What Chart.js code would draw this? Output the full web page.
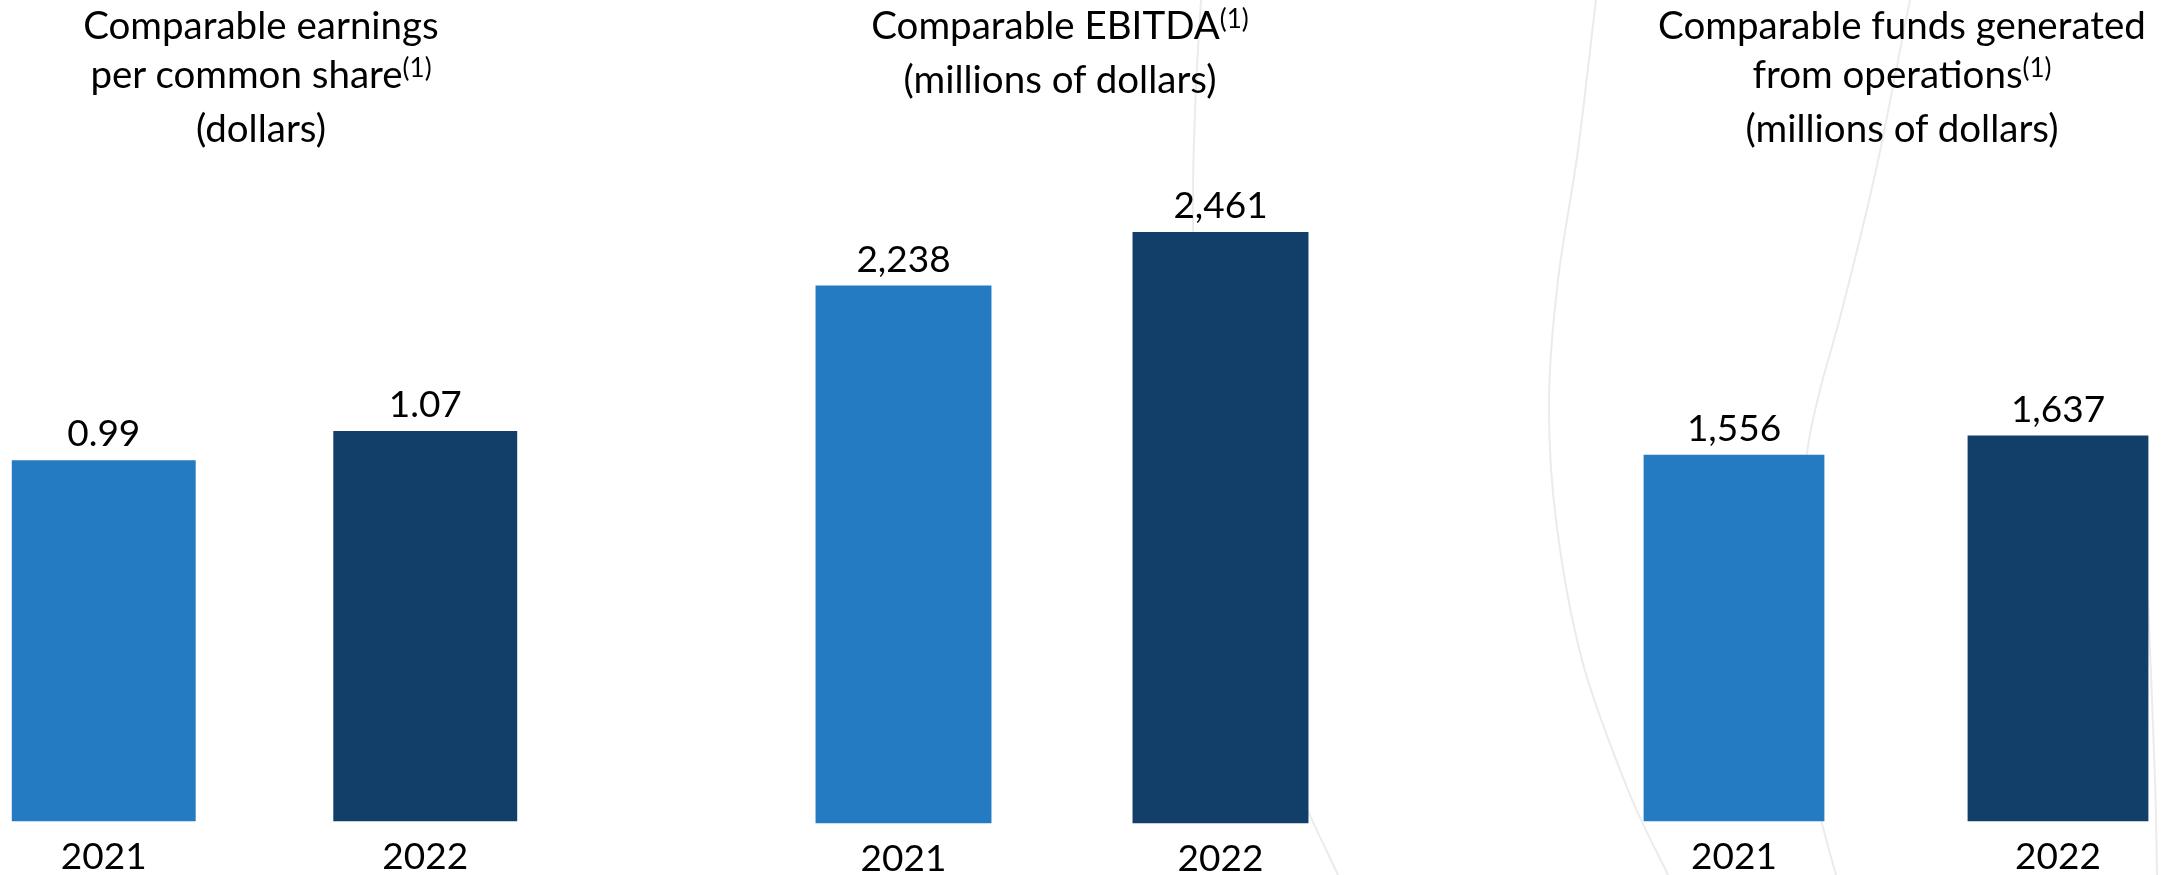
<!DOCTYPE html>
<html>
<head>
<meta charset="utf-8">
<script src="https://cdn.jsdelivr.net/npm/chart.js@4.4.0/dist/chart.umd.min.js"></script>
<style>
  html, body { margin:0; padding:0; background:#ffffff; }
  body { width:2169px; height:875px; overflow:hidden; position:relative; font-family: Lato, "Open Sans", sans-serif; color:#000; }
  #bg { position:absolute; left:0; top:0; width:2169px; height:875px; z-index:0; }
  .chartbox { position:absolute; top:0; z-index:1; }
  .title { position:absolute; top:0px; width:800px; text-align:center; font-size:38.5px; line-height:49px; white-space:nowrap; z-index:2; color:#000; }
  .title .sup { font-size:26px; position:relative; top:-11px; }
</style>
</head>
<body>
<canvas id="bg" width="2169" height="875"></canvas>

<div class="title" style="left:-139px;">Comparable earnings<br>per common share<span class="sup">(1)</span><br>(dollars)</div>
<div class="title" style="left:660px;">Comparable EBITDA<span class="sup">(1)</span><br>(millions of dollars)</div>
<div class="title" style="left:1502px;">Comparable funds generated<br>from operations<span class="sup">(1)</span><br>(millions of dollars)</div>

<div class="chartbox" style="left:-57px; width:643px; height:892px;"><canvas id="c1"></canvas></div>
<div class="chartbox" style="left:745px; width:634px; height:894px;"><canvas id="c2"></canvas></div>
<div class="chartbox" style="left:1572px; width:648px; height:892px;"><canvas id="c3"></canvas></div>

<script>
// ---- data ----
const categories = ['2021', '2022'];
const epsValues = [0.99, 1.07];          // Comparable earnings per common share (dollars)
const ebitdaValues = [2238, 2461];       // Comparable EBITDA (millions of dollars)
const fundsValues = [1556, 1637];        // Comparable funds generated from operations (millions of dollars)
const barColors = ['#247BC1', '#113F69'];

// ---- decorative background arcs ----
(function drawArcs() {
  const c = document.getElementById('bg');
  const ctx = c.getContext('2d');
  ctx.strokeStyle = '#ebebeb';
  ctx.lineWidth = 2;
  function spline(pts) {
    ctx.beginPath();
    ctx.moveTo(pts[0][0], pts[0][1]);
    for (let i = 0; i < pts.length - 1; i++) {
      const p0 = pts[i - 1] || pts[i], p1 = pts[i], p2 = pts[i + 1], p3 = pts[i + 2] || p2;
      ctx.bezierCurveTo(
        p1[0] + (p2[0] - p0[0]) / 6, p1[1] + (p2[1] - p0[1]) / 6,
        p2[0] - (p3[0] - p1[0]) / 6, p2[1] - (p3[1] - p1[1]) / 6,
        p2[0], p2[1]);
    }
    ctx.stroke();
  }
  spline([[1205,-40],[1201,0],[1195,112],[1193,223],[1199,380],[1216,520],[1247,650],[1290,770],[1338,875],[1352,905]]);
  spline([[1602,-40],[1596,0],[1578,150],[1558,280],[1549,400],[1556,520],[1582,660],[1628,790],[1668,875],[1682,905]]);
  spline([[1920,-40],[1910,0],[1876,170],[1842,310],[1820,390],[1807,453],[1798,560],[1800,680],[1812,780],[1836,875],[1846,905]]);
  spline([[2148,600],[2155,780],[2157,875],[2158,905]]);
})();

// ---- value labels plugin ----
const valueLabels = {
  id: 'valueLabels',
  afterDatasetsDraw(chart, args, opts) {
    const ctx = chart.ctx;
    const meta = chart.getDatasetMeta(0);
    const values = chart.data.datasets[0].data;
    ctx.save();
    ctx.font = '37px Lato, "Open Sans", sans-serif';
    ctx.fillStyle = '#000';
    ctx.textAlign = 'center';
    ctx.textBaseline = 'alphabetic';
    meta.data.forEach((bar, i) => {
      ctx.fillText(opts.format(values[i]), bar.x, bar.y - 14);
    });
    ctx.restore();
  }
};

const fmtDollars = v => v.toFixed(2);
const fmtMillions = v => v.toLocaleString('en-US');

function makeChart(id, values, yMax, padTop, barPct, fmt) {
  return new Chart(document.getElementById(id), {
    type: 'bar',
    data: {
      labels: categories,
      datasets: [{
        data: values,
        backgroundColor: barColors,
        borderWidth: 0,
        barPercentage: barPct,
        categoryPercentage: 1
      }]
    },
    options: {
      responsive: true,
      maintainAspectRatio: false,
      animation: false,
      events: [],
      layout: { padding: { top: padTop, left: 0, right: 0, bottom: 0 } },
      plugins: {
        legend: { display: false },
        tooltip: { enabled: false },
        title: { display: false },
        valueLabels: { format: fmt }
      },
      scales: {
        x: {
          grid: { display: false, drawTicks: false },
          border: { display: false },
          ticks: {
            color: '#000',
            padding: 13,
            font: { family: 'Lato, "Open Sans", sans-serif', size: 37, lineHeight: 1.2 }
          }
        },
        y: { display: false, min: 0, max: yMax }
      }
    },
    plugins: [valueLabels]
  });
}

makeChart('c1', epsValues, 2, 91.6, 0.572, fmtDollars);
makeChart('c2', ebitdaValues, 3000, 102.4, 0.555, fmtMillions);
makeChart('c3', fundsValues, 3000, 114.2, 0.558, fmtMillions);
</script>
</body>
</html>
